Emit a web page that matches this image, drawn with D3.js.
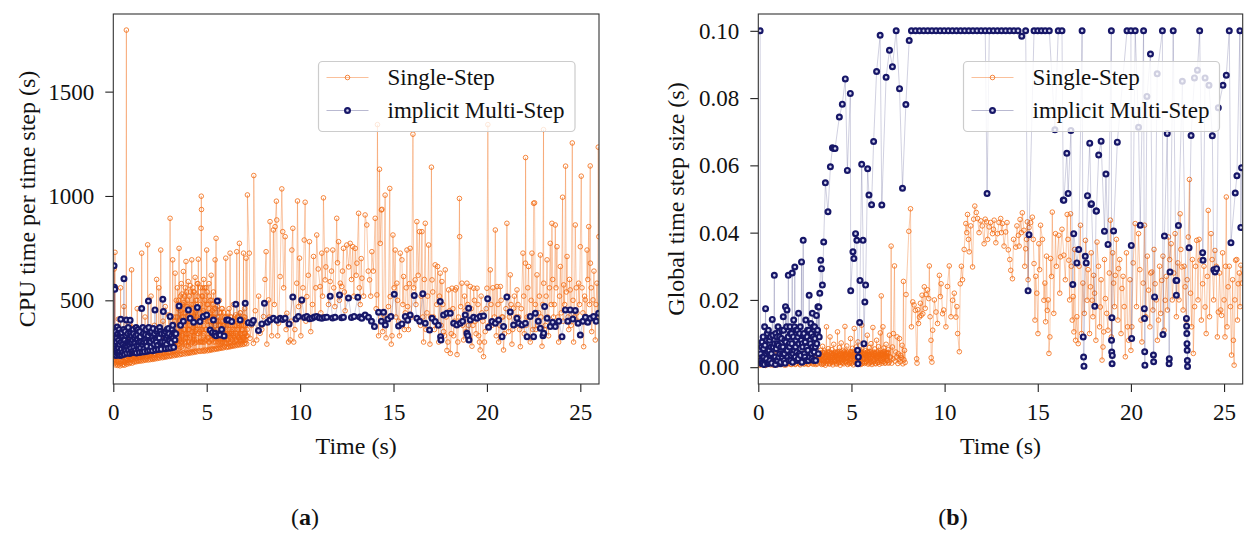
<!DOCTYPE html>
<html>
<head>
<meta charset="utf-8">
<script src="https://cdn.jsdelivr.net/npm/d3@7/dist/d3.min.js"></script>
<style>
  html, body { margin: 0; padding: 0; background: #fff; }
  svg { display: block; }
  text { font-family: "Liberation Serif", "Times New Roman", serif; fill: #111; }
</style>
</head>
<body>
<svg id="fig" width="1245" height="533"></svg>
<script>
// ---------- data: [time (s), value] ----------

// (a) CPU time per time step, Single-Step, start-up phase with small steps
const singleCpuEarly = [
  [0.02,230],[0.05,650],[0.08,205],[0.09,730],[0.12,190],[0.15,262],[0.18,196],[0.21,330],[0.24,188],[0.27,410],
  [0.30,195],[0.33,248],[0.36,186],[0.39,560],[0.42,198],[0.45,300],[0.48,190],[0.51,250],[0.54,194],[0.57,470],
  [0.60,189],[0.63,280],[0.67,200],[0.70,1795],[0.73,194],[0.76,330],[0.79,203],[0.82,260],[0.85,197],[0.88,385],
  [0.91,202],[0.94,290],[0.98,646],[1.01,199],[1.04,370],[1.07,207],[1.10,300],[1.13,204],[1.16,320],[1.19,210],
  [1.22,290],[1.25,206],[1.28,460],[1.31,212],[1.34,300],[1.37,208],[1.40,350],[1.43,214],[1.46,280],[1.49,209],
  [1.52,726],[1.55,216],[1.58,310],[1.61,211],[1.64,285],[1.67,218],[1.70,420],[1.73,213],[1.76,300],[1.79,219],
  [1.84,766],[1.87,214],[1.90,330],[1.93,220],[1.96,300],[1.99,216],[2.02,520],[2.05,222],[2.08,340],[2.11,217],
  [2.14,290],[2.17,224],[2.20,380],[2.23,219],[2.26,310],[2.29,226],[2.32,600],[2.35,221],[2.38,330],[2.41,228],
  [2.44,560],[2.47,223],[2.50,300],[2.54,741],[2.57,229],[2.60,330],[2.63,225],[2.66,400],[2.69,231],[2.72,300],
  [2.75,227],[2.78,470],[2.81,233],[2.84,350],[2.87,229],[2.90,320],[2.93,235],[2.96,430],[3.00,231],[3.04,893],
  [3.07,237],[3.10,360],[3.13,233],[3.18,694],[3.21,239],[3.24,420],[3.27,235],[3.31,630],[3.34,241],[3.37,500],
  [3.40,237],[3.43,560],[3.46,243],[3.49,380],[3.52,749],[3.55,239],[3.58,450],[3.61,245],[3.64,580],[3.67,241],
  [3.70,330],[3.75,638],[3.78,247],[3.81,520],[3.84,243],[3.89,686],[3.92,249],[3.95,470],[3.98,245],[4.01,590],
  [4.04,251],[4.07,360],[4.10,247],[4.13,540],[4.16,253],[4.20,694],[4.23,249],[4.26,560],[4.29,255],[4.32,400],
  [4.35,251],[4.38,610],[4.41,257],[4.44,450],[4.47,253],[4.50,580],[4.55,697],[4.58,259],[4.61,380],[4.64,255],
  [4.67,560],[4.70,845],[4.71,999],[4.72,935],[4.75,257],[4.78,520],[4.81,261],[4.84,600],[4.87,256],[4.90,410],
  [4.93,262],[4.96,560],[5.00,741],[5.03,258],[5.06,480],[5.09,264],[5.12,580],[5.15,260],[5.18,400],[5.21,266],
  [5.24,620],[5.27,262],[5.30,450],[5.33,268],[5.36,540],[5.40,264],[5.45,694],[5.48,270],[5.50,797],[5.53,266],
  [5.56,470],[5.59,272],[5.62,400],[5.65,268],[5.68,500],[5.71,274],[5.74,380],[5.77,270],[5.80,460],[5.83,276],
  [5.86,350],[5.89,272],[5.92,440],[5.95,278],[5.98,380],[6.02,702],[6.05,274],[6.08,420],[6.11,280],[6.14,340],
  [6.17,276],[6.20,460],[6.23,282],[6.25,726],[6.28,278],[6.31,400],[6.34,284],[6.37,360],[6.40,280],[6.43,480],
  [6.46,286],[6.49,380],[6.52,282],[6.55,430],[6.58,288],[6.61,733],[6.64,284],[6.67,390],[6.70,290],[6.75,773],
  [6.78,286],[6.81,440],[6.84,292],[6.87,360],[6.90,288],[6.93,410],[6.97,726],[7.00,290],[7.03,460],[7.06,296],
  [7.11,702],[7.14,292],[7.18,1005]
];

// (a) Single-Step, intermediate steps inside the start-up band
const singleCpuBand = [
  [0.015,215],[0.035,245],[0.065,198],[0.095,270],[0.125,225],[0.165,210],[0.195,290],[0.225,232],[0.255,205],[0.285,265],
  [0.315,218],[0.345,300],[0.375,240],[0.405,208],[0.435,255],[0.465,228],[0.495,310],[0.525,212],[0.555,268],[0.585,236],
  [0.615,204],[0.645,295],[0.685,246],[0.715,220],[0.745,272],[0.775,230],[0.805,300],[0.835,214],[0.865,258],[0.895,238],
  [0.925,320],[0.955,222],[0.985,276],[1.025,240],[1.055,214],[1.085,285],[1.115,250],[1.145,228],[1.175,300],[1.205,242],
  [1.235,222],[1.265,330],[1.295,258],[1.325,236],[1.355,290],[1.385,250],[1.415,226],[1.445,312],[1.475,262],[1.505,240],
  [1.535,285],[1.565,232],[1.595,340],[1.625,256],[1.655,238],[1.685,298],[1.715,262],[1.745,230],[1.775,318],[1.805,248],
  [1.835,272],[1.865,240],[1.895,300],[1.925,258],[1.955,236],[1.985,335],[2.015,268],[2.045,246],[2.075,296],[2.105,255],
  [2.135,320],[2.165,238],[2.195,282],[2.225,262],[2.255,244],[2.285,340],[2.315,270],[2.345,250],[2.375,300],[2.405,258],
  [2.435,236],[2.465,325],[2.495,275],[2.525,248],[2.555,310],[2.585,262],[2.615,345],[2.645,252],[2.675,288],[2.705,268],
  [2.735,246],[2.765,330],[2.795,280],[2.825,255],[2.855,305],[2.885,265],[2.915,360],[2.945,250],[2.975,295],[3.015,272],
  [3.045,252],[3.075,340],[3.105,285],[3.135,262],[3.165,318],[3.195,270],[3.225,380],[3.255,258],[3.285,300],[3.315,276],
  [3.355,420],[3.385,262],[3.415,340],[3.445,290],[3.475,460],[3.505,268],[3.535,380],[3.565,310],[3.595,520],[3.625,275],
  [3.655,420],[3.685,300],[3.715,480],[3.745,270],[3.765,360],[3.795,440],[3.825,295],[3.855,560],[3.875,320],[3.905,400],
  [3.935,285],[3.965,500],[3.995,340],[4.025,280],[4.055,460],[4.085,320],[4.115,570],[4.145,290],[4.175,420],[4.215,350],
  [4.245,300],[4.275,480],[4.305,330],[4.335,540],[4.365,295],[4.395,440],[4.425,360],[4.455,310],[4.485,500],[4.515,340],
  [4.535,580],[4.565,300],[4.595,460],[4.625,350],[4.655,420],[4.685,305],[4.735,520],[4.765,360],[4.795,300],[4.825,450],
  [4.855,340],[4.885,560],[4.915,310],[4.945,420],[4.975,360],[5.015,480],[5.045,320],[5.075,400],[5.105,300],[5.135,520],
  [5.165,350],[5.195,440],[5.225,310],[5.255,380],[5.285,500],[5.315,330],[5.345,420],[5.375,300],[5.425,460],[5.465,340],
  [5.515,400],[5.545,320],[5.575,360],[5.605,300],[5.635,420],[5.665,330],[5.695,380],[5.725,310],[5.755,440],[5.785,340],
  [5.815,300],[5.845,400],[5.875,330],[5.905,360],[5.935,310],[5.965,420],[5.995,330],[6.035,300],[6.065,380],[6.095,340],
  [6.125,310],[6.155,400],[6.185,330],[6.215,360],[6.265,320],[6.295,420],[6.325,340],[6.355,310],[6.385,380],[6.415,330],
  [6.455,400],[6.485,320],[6.515,360],[6.545,340],[6.575,310],[6.625,420],[6.655,330],[6.685,360],[6.735,320],[6.765,400],
  [6.795,340],[6.825,310],[6.855,380],[6.885,330],[6.915,360],[6.955,320],[6.985,420],[7.015,340],[7.045,310],[7.075,380],
  [7.125,330],[7.165,360]
];

// (a) Single-Step, further start-up steps in the middle of the band
const singleCpuCore = [
  [0.505,232],[0.535,262],[0.565,205],[0.595,284],[0.625,246],[0.655,218],[0.705,268],[0.735,238],[0.765,212],[0.795,280],
  [0.825,244],[0.855,226],[0.885,292],[0.915,250],[0.945,216],[0.975,262],[1.005,236],[1.035,296],[1.065,228],[1.095,255],
  [1.125,270],[1.155,238],[1.185,262],[1.215,296],[1.245,232],[1.275,278],[1.305,246],[1.335,312],[1.365,228],[1.395,270],
  [1.425,252],[1.455,296],[1.485,236],[1.515,280],[1.545,256],[1.575,318],[1.605,240],[1.635,272],[1.665,260],[1.695,306],
  [1.725,244],[1.755,286],[1.785,262],[1.815,232],[1.845,296],[1.875,270],[1.905,248],[1.935,312],[1.965,266],[1.995,244],
  [2.025,298],[2.055,276],[2.085,252],[2.115,320],[2.145,262],[2.175,300],[2.205,246],[2.235,280],[2.265,330],[2.295,256],
  [2.325,284],[2.355,268],[2.385,310],[2.415,250],[2.445,292],[2.475,340],[2.505,262],[2.535,298],[2.565,276],[2.595,320],
  [2.625,258],[2.655,300],[2.685,280],[2.715,336],[2.745,262],[2.775,300],[2.805,284],[2.835,330],[2.865,270],[2.895,298],
  [2.925,282],[2.955,345],[2.985,268],[3.025,310],[3.055,286],[3.085,360],[3.115,272],[3.145,300],[3.175,340],[3.205,282],
  [3.235,310],[3.265,400],[3.295,290],[3.325,350],[3.405,300],[3.435,420],[3.465,320],[3.495,500],[3.525,290],[3.555,400],
  [3.585,350],[3.615,470],[3.645,300],[3.675,530],[3.705,340],[3.735,420],[3.755,310],[3.785,490],[3.815,360],[3.845,300],
  [3.865,440],[3.895,340],[3.925,540],[3.955,320],[3.985,410],[4.015,360],[4.045,300],[4.075,520],[4.105,380],[4.135,330],
  [4.165,480],[4.195,300],[4.235,440],[4.265,370],[4.295,540],[4.325,310],[4.355,420],[4.385,350],[4.415,500],[4.445,300],
  [4.475,420],[4.505,380],[4.545,520],[4.575,340],[4.605,410],[4.635,300],[4.665,480],[4.695,360],[4.725,300],[4.755,440],
  [4.785,560],[4.815,330],[4.845,400],[4.875,300],[4.905,500],[4.935,360],[4.965,420],[4.995,310],[5.025,540],[5.055,380],
  [5.085,320],[5.115,460],[5.145,300],[5.175,420],[5.205,500],[5.235,340],[5.265,420],[5.295,310],[5.325,480],[5.355,360],
  [5.385,420],[5.415,320],[5.445,400],[5.475,300],[5.505,460],[5.535,360],[5.565,420],[5.595,330],[5.625,380],[5.655,300],
  [5.685,440],[5.715,340],[5.745,300],[5.775,400],[5.805,330],[5.835,460],[5.865,300],[5.895,380],[5.925,340],[5.955,300],
  [5.985,420],[6.015,340],[6.045,310],[6.075,400],[6.105,330],[6.135,440],[6.165,310],[6.195,380],[6.245,340],[6.275,300],
  [6.305,420],[6.335,350],[6.365,310],[6.395,400],[6.425,340],[6.465,300],[6.495,420],[6.525,330],[6.565,380],[6.595,310],
  [6.635,360],[6.665,420],[6.695,320],[6.725,380],[6.755,310],[6.785,440],[6.815,340],[6.845,300],[6.875,400],[6.905,340],
  [6.945,310],[6.975,380],[7.005,320],[7.035,420],[7.065,340],[7.095,310],[7.135,400],[7.175,330]
];

// (a) CPU time per time step, Single-Step, later phase with larger steps
const singleCpuLate = [
  [7.28,726],[7.32,318],[7.50,294],[7.52,1098],[7.68,310],[7.86,342],[8.04,422],[8.18,733],[8.31,502],[8.39,877],
  [8.48,330],[8.57,837],[8.66,853],[8.73,975],[8.75,885],[8.84,390],[8.93,614],[9.02,1034],[9.07,829],[9.20,805],
  [9.29,438],[9.38,300],[9.47,310],[9.56,741],[9.61,845],[9.72,360],[9.82,582],[9.86,976],[9.97,702],[10.09,494],
  [10.22,789],[10.27,970],[10.36,518],[10.50,781],[10.57,350],[10.72,710],[10.80,420],[10.89,813],[11.07,566],[11.16,726],
  [11.25,991],[11.34,598],[11.43,741],[11.61,590],[11.75,741],[11.86,470],[11.96,893],[12.06,781],[12.15,582],[12.23,566],
  [12.32,749],[12.41,450],[12.50,765],[12.68,773],[12.82,757],[12.95,749],[13.04,678],[13.13,917],[13.22,480],[13.31,606],
  [13.48,909],[13.57,861],[13.72,598],[13.84,733],[14.02,893],[14.11,526],[14.14,1342],[14.25,1128],[14.29,773],[14.35,933],
  [14.38,936],[14.47,430],[14.55,1004],[14.64,406],[14.80,1036],[14.82,518],[14.88,290],[14.97,813],[15.09,741],[15.18,582],
  [15.27,400],[15.36,726],[15.45,694],[15.54,614],[15.63,440],[15.72,741],[15.80,360],[15.89,749],[16.04,1296],[16.16,598],
  [16.25,877],[16.39,829],[16.45,380],[16.52,829],[16.61,300],[16.70,869],[16.79,440],[16.88,765],[16.95,290],[17.03,1138],
  [17.06,598],[17.14,420],[17.23,670],[17.36,662],[17.42,300],[17.50,630],[17.59,590],[17.68,350],[17.77,646],[17.86,260],
  [17.95,550],[18.04,246],[18.13,558],[18.22,330],[18.31,550],[18.40,240],[18.48,420],[18.53,988],[18.54,805],[18.66,582],
  [18.75,310],[18.84,450],[18.93,582],[19.02,380],[19.11,566],[19.20,280],[19.29,558],[19.38,400],[19.47,558],[19.56,330],
  [19.64,262],[19.73,440],[19.82,230],[19.91,350],[20.00,558],[20.05,1342],[20.18,646],[20.27,380],[20.45,837],[20.54,566],
  [20.63,300],[20.72,566],[20.80,420],[20.89,262],[21.07,869],[21.16,350],[21.25,622],[21.34,290],[21.43,462],[21.52,380],
  [21.61,550],[21.70,420],[21.79,278],[21.93,726],[22.00,340],[22.06,678],[22.07,1184],[22.15,420],[22.23,662],[22.32,300],
  [22.41,726],[22.50,965],[22.55,967],[22.62,360],[22.68,622],[22.77,440],[22.86,717],[22.95,280],[23.03,1318],[23.04,582],
  [23.13,380],[23.22,694],[23.30,330],[23.39,773],[23.48,869],[23.57,420],[23.66,861],[23.75,757],[23.84,300],[23.93,662],
  [24.05,994],[24.11,574],[24.21,1143],[24.29,710],[24.38,360],[24.46,550],[24.57,1254],[24.64,300],[24.73,861],[24.82,440],
  [24.91,582],[25.00,757],[25.05,1095],[25.18,278],[25.27,502],[25.36,741],[25.45,853],[25.53,1144],[25.54,678],[25.61,350],
  [25.68,502],[25.80,310],[25.89,582],[25.96,1234],[25.99,805]
];

// (a) Single-Step, additional later steps around the main cloud
const singleCpuCloud = [
  [7.40,380],[7.60,450],[7.78,520],[7.95,360],[8.12,600],[8.22,290],[8.35,420],[8.62,480],[8.80,330],[9.12,560],
  [9.25,360],[9.52,400],[9.66,300],[9.92,470],[10.04,330],[10.15,560],[10.31,400],[10.44,620],[10.66,480],[10.84,560],
  [10.97,650],[11.11,440],[11.20,520],[11.38,660],[11.52,480],[11.68,640],[11.80,560],[12.00,680],[12.10,500],[12.27,640],
  [12.37,540],[12.60,660],[12.75,600],[12.88,520],[13.00,620],[13.17,560],[13.27,700],[13.40,520],[13.65,640],[13.78,520],
  [13.92,640],[14.07,460],[14.20,330],[14.42,350],[14.60,320],[14.73,470],[14.92,330],[15.03,560],[15.13,420],[15.22,500],
  [15.32,330],[15.50,480],[15.58,360],[15.68,560],[15.76,470],[15.85,580],[15.96,420],[16.08,560],[16.20,480],[16.32,620],
  [16.48,520],[16.57,420],[16.65,600],[16.74,360],[16.83,520],[16.99,420],[17.10,540],[17.19,360],[17.32,480],[17.46,520],
  [17.55,380],[17.64,480],[17.73,330],[17.82,420],[17.91,300],[18.00,450],[18.09,340],[18.18,460],[18.27,400],[18.36,560],
  [18.44,300],[18.60,470],[18.70,380],[18.80,520],[18.88,350],[18.97,480],[19.06,320],[19.16,460],[19.25,380],[19.33,500],
  [19.42,340],[19.52,480],[19.60,300],[19.69,520],[19.78,400],[19.87,300],[19.96,460],[20.10,380],[20.22,480],[20.32,560],
  [20.40,420],[20.50,330],[20.59,480],[20.68,380],[20.76,500],[20.85,420],[20.94,340],[21.02,460],[21.11,520],[21.20,420],
  [21.29,480],[21.38,360],[21.47,520],[21.56,420],[21.66,480],[21.75,360],[21.84,460],[21.97,520],[22.10,380],[22.19,560],
  [22.28,420],[22.37,500],[22.46,360],[22.59,480],[22.72,380],[22.81,520],[22.90,420],[22.99,480],[23.08,360],[23.17,520],
  [23.26,420],[23.35,560],[23.44,480],[23.52,600],[23.61,480],[23.70,560],[23.80,420],[23.89,520],[23.98,440],[24.08,400],
  [24.16,480],[24.25,540],[24.34,420],[24.42,600],[24.51,380],[24.61,500],[24.68,420],[24.78,560],[24.87,400],[24.96,480],
  [25.09,560],[25.14,440],[25.23,520],[25.32,420],[25.40,600],[25.49,480],[25.58,560],[25.64,420],[25.73,640],[25.84,480],
  [25.93,400]
];

// (a) CPU time per time step, implicit Multi-Step
const multiCpu = [
  [0.02,300],[0.04,666],[0.06,563],[0.08,553],[0.10,280],[0.13,350],[0.16,260],[0.19,320],[0.22,250],[0.25,340],
  [0.28,270],[0.31,360],[0.34,255],[0.37,330],[0.40,409],[0.43,265],[0.46,345],[0.50,250],[0.54,310],[0.57,603],
  [0.60,270],[0.63,350],[0.66,258],[0.70,406],[0.74,280],[0.78,340],[0.82,262],[0.86,300],[0.90,404],[0.94,270],
  [0.98,330],[1.02,255],[1.06,360],[1.10,275],[1.14,320],[1.18,260],[1.22,370],[1.26,282],[1.30,335],[1.34,265],
  [1.38,300],[1.42,350],[1.46,272],[1.52,461],[1.56,290],[1.60,340],[1.64,268],[1.70,310],[1.75,360],[1.80,280],
  [1.88,497],[1.92,300],[1.97,345],[2.02,276],[2.08,320],[2.13,365],[2.18,290],[2.23,454],[2.28,310],[2.33,350],
  [2.38,285],[2.43,330],[2.48,370],[2.53,295],[2.58,340],[2.65,505],[2.68,446],[2.75,300],[2.80,350],[2.85,290],
  [2.90,330],[2.95,365],[3.00,305],[3.04,422],[3.10,298],[3.15,360],[3.20,320],[3.25,345],[3.30,310],[3.35,340],
  [3.52,473],[3.60,380],[3.75,400],[4.02,454],[4.11,414],[4.30,395],[4.50,465],[4.64,398],[4.82,422],[5.00,430],
  [5.18,358],[5.30,345],[5.36,406],[5.42,335],[5.45,342],[5.50,330],[5.57,497],[5.64,338],[5.72,334],[5.80,360],
  [5.93,329],[6.07,406],[6.16,406],[6.34,398],[6.56,481],[6.79,406],[7.06,486],[7.23,393],[7.41,390],[7.50,403],
  [7.77,355],[7.95,387],[8.09,486],[8.25,395],[8.39,406],[8.57,414],[8.75,405],[8.93,414],[9.07,408],[9.20,414],
  [9.41,387],[9.61,516],[9.78,410],[9.91,422],[10.09,502],[10.23,418],[10.36,422],[10.50,412],[10.63,414],[10.76,420],
  [10.89,422],[11.03,416],[11.16,414],[11.30,418],[11.43,419],[11.61,520],[11.74,415],[11.87,419],[12.11,526],[12.22,416],
  [12.32,419],[12.59,511],[12.75,418],[12.89,422],[13.09,515],[13.20,420],[13.30,414],[13.48,430],[13.66,419],[13.82,400],
  [13.98,374],[14.20,443],[14.35,400],[14.47,443],[14.56,382],[14.70,410],[14.86,422],[15.04,529],[15.27,377],[15.45,387],
  [15.63,422],[15.76,405],[15.89,430],[16.11,523],[16.25,414],[16.40,400],[16.57,531],[16.70,390],[16.93,358],[17.06,414],
  [17.23,398],[17.40,380],[17.50,494],[17.52,326],[17.54,310],[17.68,430],[17.86,438],[18.04,438],[18.22,390],[18.39,382],
  [18.57,390],[18.70,400],[18.84,430],[18.93,342],[18.98,330],[19.02,462],[19.04,310],[19.11,406],[19.29,419],[19.47,414],
  [19.64,422],[19.82,425],[20.04,507],[20.09,371],[20.27,398],[20.45,390],[20.63,406],[20.81,326],[20.89,374],[21.07,516],
  [21.25,444],[21.43,382],[21.61,414],[21.70,390],[21.88,382],[22.06,390],[22.15,326],[22.32,422],[22.50,326],[22.59,438],
  [22.75,400],[22.86,366],[23.00,330],[23.04,342],[23.09,470],[23.22,414],[23.39,374],[23.52,395],[23.66,374],[23.85,400],
  [24.02,326],[24.20,454],[24.33,400],[24.46,454],[24.60,410],[24.73,451],[24.88,390],[25.00,334],[25.14,400],[25.27,419],
  [25.40,395],[25.54,414],[25.71,422],[25.85,400],[25.98,438]
];

// (a) implicit Multi-Step, extra start-up steps
const multiCpuBand = [
  [0.03,240],[0.07,320],[0.115,290],[0.145,235],[0.175,300],[0.205,372],[0.235,280],[0.265,240],[0.295,310],[0.325,290],
  [0.355,236],[0.385,345],[0.415,300],[0.445,238],[0.475,320],[0.52,290],[0.555,360],[0.585,242],[0.615,310],[0.645,285],
  [0.68,330],[0.72,246],[0.76,300],[0.80,370],[0.84,290],[0.88,245],[0.92,340],[0.96,300],[1.00,250],[1.04,310],
  [1.08,340],[1.12,250],[1.16,295],[1.20,330],[1.24,248],[1.28,310],[1.32,360],[1.36,285],[1.40,250],[1.44,325],
  [1.48,300],[1.54,252],[1.58,370],[1.62,300],[1.67,254],[1.72,335],[1.77,300],[1.83,256],[1.86,330],[1.90,370],
  [1.95,260],[2.00,300],[2.05,350],[2.10,258],[2.15,310],[2.21,340],[2.26,262],[2.31,300],[2.36,360],[2.41,264],
  [2.46,320],[2.51,350],[2.56,266],[2.61,300],[2.72,340],[2.78,268],[2.83,320],[2.88,360],[2.93,270],[2.98,340],
  [3.07,272],[3.13,330],[3.18,380],[3.23,275],[3.28,340]
];

// (b) global time step size, Single-Step, start-up phase
const singleStepEarly = [
  [0.03,0.0020],[0.08,0.0008],[0.13,0.0035],[0.18,0.0010],[0.24,0.0030],[0.30,0.0006],[0.36,0.0028],[0.42,0.0010],
  [0.48,0.0040],[0.54,0.0012],[0.60,0.0032],[0.66,0.0007],[0.72,0.0026],[0.78,0.0011],[0.84,0.0038],[0.90,0.0009],
  [0.96,0.0030],[1.02,0.0013],[1.08,0.0042],[1.14,0.0010],[1.20,0.0029],[1.26,0.0008],[1.32,0.0036],[1.38,0.0012],
  [1.44,0.0031],[1.50,0.0007],[1.56,0.0044],[1.62,0.0011],[1.68,0.0027],[1.74,0.0009],[1.80,0.0039],[1.86,0.0013],
  [1.92,0.0033],[1.98,0.0008],[2.04,0.0041],[2.10,0.0012],[2.16,0.0030],[2.22,0.0010],[2.28,0.0037],[2.34,0.0014],
  [2.40,0.0034],[2.46,0.0009],[2.52,0.0045],[2.58,0.0012],[2.64,0.0032],[2.70,0.0010],[2.76,0.0038],[2.82,0.0013],
  [2.88,0.0030],[2.94,0.0009],[3.00,0.0043],[3.06,0.0012],[3.12,0.0035],[3.18,0.0010],[3.24,0.0040],[3.30,0.0015],
  [3.35,0.0050],[3.40,0.0008],[3.45,0.0062],[3.50,0.0012],[3.55,0.0048],[3.60,0.0006],[3.66,0.0120],[3.70,0.0018],
  [3.75,0.0055],[3.80,0.0010],[3.85,0.0090],[3.90,0.0014],[3.95,0.0052],[4.00,0.0007],[4.05,0.0068],[4.10,0.0016],
  [4.15,0.0045],[4.20,0.0009],[4.25,0.0105],[4.30,0.0013],[4.35,0.0058],[4.40,0.0006],[4.45,0.0072],[4.50,0.0015],
  [4.55,0.0050],[4.60,0.0010],[4.65,0.0121],[4.70,0.0017],[4.75,0.0063],[4.80,0.0008],[4.85,0.0047],[4.90,0.0014],
  [4.95,0.0085],[5.00,0.0011],[5.05,0.0056],[5.10,0.0007],[5.15,0.0115],[5.20,0.0016],[5.25,0.0060],[5.30,0.0010],
  [5.35,0.0075],[5.40,0.0013],[5.45,0.0052],[5.50,0.0008],[5.55,0.0125],[5.60,0.0015],[5.65,0.0066],[5.70,0.0011],
  [5.75,0.0049],[5.80,0.0017],[5.85,0.0095],[5.90,0.0009],[5.95,0.0058],[6.00,0.0013],[6.05,0.0070],[6.10,0.0008],
  [6.15,0.0118],[6.20,0.0016],[6.25,0.0054],[6.30,0.0010],[6.35,0.0080],[6.40,0.0014],[6.45,0.0061],[6.50,0.0009],
  [6.55,0.0102],[6.60,0.0212],[6.65,0.0018],[6.69,0.0120],[6.74,0.0057],[6.80,0.0012],[6.86,0.0068],[6.92,0.0020],
  [6.98,0.0052],[7.04,0.0095],[7.10,0.0030],[7.13,0.0360],[7.20,0.0060],[7.25,0.0100],[7.31,0.0301],[7.38,0.0045],
  [7.45,0.0090],[7.52,0.0040],[7.58,0.0085],[7.65,0.0035],[7.72,0.0065],[7.79,0.0255],[7.85,0.0050]
];

// (b) Single-Step, intermediate start-up steps
const singleStepBand = [
  [0.015,0.0012],[0.055,0.0025],[0.105,0.0006],[0.155,0.0018],[0.21,0.0028],[0.27,0.0014],[0.33,0.0022],[0.39,0.0005],
  [0.45,0.0019],[0.51,0.0027],[0.57,0.0009],[0.63,0.0021],[0.69,0.0016],[0.75,0.0034],[0.81,0.0006],[0.87,0.0024],
  [0.93,0.0015],[0.99,0.0029],[1.05,0.0007],[1.11,0.0022],[1.17,0.0017],[1.23,0.0033],[1.29,0.0011],[1.35,0.0024],
  [1.41,0.0006],[1.47,0.0021],[1.53,0.0030],[1.59,0.0013],[1.65,0.0036],[1.71,0.0018],[1.77,0.0008],[1.83,0.0026],
  [1.89,0.0019],[1.95,0.0031],[2.01,0.0010],[2.07,0.0024],[2.13,0.0016],[2.19,0.0035],[2.25,0.0007],[2.31,0.0023],
  [2.37,0.0018],[2.43,0.0029],[2.49,0.0011],[2.55,0.0033],[2.61,0.0020],[2.67,0.0008],[2.73,0.0027],[2.79,0.0017],
  [2.85,0.0038],[2.91,0.0012],[2.97,0.0025],[3.03,0.0019],[3.09,0.0008],[3.15,0.0030],[3.21,0.0022],[3.27,0.0028],
  [3.325,0.0030],[3.375,0.0022],[3.425,0.0035],[3.475,0.0018],[3.525,0.0042],[3.575,0.0026],[3.625,0.0033],[3.675,0.0020],
  [3.725,0.0038],[3.775,0.0028],[3.825,0.0045],[3.875,0.0022],[3.925,0.0036],[3.975,0.0030],[4.025,0.0040],[4.075,0.0024],
  [4.125,0.0034],[4.175,0.0019],[4.225,0.0043],[4.275,0.0028],[4.325,0.0036],[4.375,0.0023],[4.425,0.0040],[4.475,0.0030],
  [4.525,0.0025],[4.575,0.0044],[4.625,0.0031],[4.675,0.0037],[4.725,0.0026],[4.775,0.0041],[4.825,0.0029],[4.875,0.0035],
  [4.925,0.0022],[4.975,0.0046],[5.025,0.0032],[5.075,0.0038],[5.125,0.0027],[5.175,0.0043],[5.225,0.0030],[5.275,0.0036],
  [5.325,0.0024],[5.375,0.0041],[5.425,0.0033],[5.475,0.0028],[5.525,0.0045],[5.575,0.0031],[5.625,0.0039],[5.675,0.0025],
  [5.725,0.0042],[5.775,0.0034],[5.825,0.0029],[5.875,0.0046],[5.925,0.0032],[5.975,0.0038],[6.025,0.0026],[6.075,0.0043],
  [6.125,0.0030],[6.175,0.0036],[6.225,0.0024],[6.275,0.0040],[6.325,0.0033],[6.375,0.0028],[6.425,0.0045],[6.475,0.0031],
  [6.525,0.0038],[6.575,0.0026],[6.625,0.0042],[6.675,0.0034],[6.725,0.0029],[6.775,0.0046],[6.825,0.0032],[6.875,0.0040],
  [6.925,0.0027],[6.965,0.0044],[7.02,0.0015],[7.07,0.0030],[7.16,0.0012],[7.23,0.0025],[7.34,0.0018],[7.42,0.0030],
  [7.49,0.0011],[7.55,0.0024],[7.62,0.0016],[7.69,0.0028],[7.76,0.0010],[7.82,0.0022],[7.88,0.0014]
];

// (b) Single-Step, further steps in the dense start-up band
const singleStepCore = [
  [3.312,0.0024],[3.337,0.0041],[3.362,0.0012],[3.387,0.0034],[3.412,0.0020],[3.437,0.0044],[3.462,0.0027],[3.487,0.0009],
  [3.512,0.0036],[3.537,0.0021],[3.562,0.0043],[3.587,0.0016],[3.612,0.0030],[3.637,0.0039],[3.662,0.0011],[3.687,0.0032],
  [3.712,0.0023],[3.737,0.0045],[3.762,0.0018],[3.787,0.0035],[3.812,0.0026],[3.837,0.0010],[3.862,0.0040],[3.887,0.0028],
  [3.912,0.0017],[3.937,0.0042],[3.962,0.0024],[3.987,0.0034],[4.012,0.0013],[4.037,0.0038],[4.062,0.0029],[4.087,0.0044],
  [4.112,0.0019],[4.137,0.0031],[4.162,0.0040],[4.187,0.0012],[4.212,0.0035],[4.237,0.0025],[4.262,0.0046],[4.287,0.0018],
  [4.312,0.0033],[4.337,0.0041],[4.362,0.0014],[4.387,0.0037],[4.412,0.0027],[4.437,0.0045],[4.462,0.0020],[4.487,0.0035],
  [4.512,0.0012],[4.537,0.0040],[4.562,0.0030],[4.587,0.0022],[4.612,0.0046],[4.637,0.0016],[4.662,0.0034],[4.687,0.0041],
  [4.712,0.0013],[4.737,0.0036],[4.762,0.0028],[4.787,0.0044],[4.812,0.0019],[4.837,0.0032],[4.862,0.0040],[4.887,0.0011],
  [4.912,0.0037],[4.937,0.0026],[4.962,0.0045],[4.987,0.0017],[5.012,0.0033],[5.037,0.0042],[5.062,0.0014],[5.087,0.0036],
  [5.112,0.0029],[5.137,0.0046],[5.162,0.0020],[5.187,0.0034],[5.212,0.0041],[5.237,0.0012],[5.262,0.0038],[5.287,0.0027],
  [5.312,0.0045],[5.337,0.0018],[5.362,0.0032],[5.387,0.0040],[5.412,0.0013],[5.437,0.0036],[5.462,0.0025],[5.487,0.0044],
  [5.512,0.0019],[5.537,0.0034],[5.562,0.0041],[5.587,0.0011],[5.612,0.0037],[5.637,0.0028],[5.662,0.0045],[5.687,0.0016],
  [5.712,0.0033],[5.737,0.0040],[5.762,0.0014],[5.787,0.0036],[5.812,0.0026],[5.837,0.0044],[5.862,0.0020],[5.887,0.0035],
  [5.912,0.0042],[5.937,0.0012],[5.962,0.0038],[5.987,0.0029],[6.012,0.0046],[6.037,0.0017],[6.062,0.0033],[6.087,0.0040],
  [6.112,0.0013],[6.137,0.0037],[6.162,0.0025],[6.187,0.0044],[6.212,0.0019],[6.237,0.0034],[6.262,0.0041],[6.287,0.0012],
  [6.312,0.0036],[6.337,0.0027],[6.362,0.0045],[6.387,0.0018],[6.412,0.0032],[6.437,0.0040],[6.462,0.0014],[6.487,0.0037],
  [6.512,0.0028],[6.537,0.0044],[6.562,0.0020],[6.587,0.0035],[6.612,0.0041],[6.637,0.0012],[6.662,0.0038],[6.687,0.0026],
  [6.712,0.0045],[6.737,0.0017],[6.762,0.0033],[6.787,0.0040],[6.812,0.0013],[6.837,0.0036],[6.862,0.0029],[6.887,0.0044],
  [6.912,0.0019],[6.937,0.0034],[6.962,0.0041],[6.987,0.0012]
];

// (b) global time step size, Single-Step, later phase
const singleStepLate = [
  [7.93,0.0216],[8.08,0.0404],[8.17,0.0471],[8.29,0.0194],[8.43,0.0169],[8.50,0.0025],[8.52,0.0012],[8.56,0.0171],
  [8.65,0.0149],[8.74,0.0154],[8.79,0.0214],[8.83,0.0159],[8.91,0.0239],[9.00,0.0216],[9.15,0.0204],[9.18,0.0301],
  [9.27,0.0080],[9.28,0.0028],[9.32,0.0015],[9.36,0.0110],[9.54,0.0164],[9.72,0.0273],[9.81,0.0248],[9.89,0.0159],
  [10.07,0.0120],[10.25,0.0301],[10.43,0.0199],[10.61,0.0149],[10.70,0.0100],[10.79,0.0046],[10.84,0.0248],[10.96,0.0260],
  [11.14,0.0427],[11.23,0.0454],[11.32,0.0343],[11.50,0.0298],[11.62,0.0479],[11.77,0.0442],[11.94,0.0435],[12.12,0.0367],
  [12.25,0.0432],[12.39,0.0417],[12.57,0.0397],[12.66,0.0437],[12.84,0.0397],[13.01,0.0442],[13.10,0.0427],[13.28,0.0402],
  [13.42,0.0349],[13.55,0.0288],[13.64,0.0263],[13.82,0.0357],[13.96,0.0392],[14.05,0.0439],[14.17,0.0459],[14.26,0.0407],
  [14.35,0.0352],[14.44,0.0432],[14.53,0.0415],[14.71,0.0446],[14.80,0.0308],[14.89,0.0270],[15.06,0.0367],[15.15,0.0422],
  [15.33,0.0199],[15.42,0.0135],[15.51,0.0169],[15.60,0.0041],[15.69,0.0323],[15.78,0.0461],[15.95,0.0397],[16.13,0.0392],
  [16.22,0.0328],[16.40,0.0333],[16.58,0.0454],[16.67,0.0318],[16.76,0.0456],[16.85,0.0140],[16.94,0.0105],[17.03,0.0080],
  [17.17,0.0070],[17.29,0.0422],[17.56,0.0377],[17.65,0.0199],[17.83,0.0239],[17.92,0.0199],[18.00,0.0273],[18.18,0.0372],
  [18.36,0.0179],[18.45,0.0021],[18.54,0.0105],[18.63,0.0204],[18.77,0.0110],[18.90,0.0437],[19.07,0.0250],[19.16,0.0273],
  [19.34,0.0293],[19.52,0.0234],[19.70,0.0031],[19.88,0.0080],[20.05,0.0120],[20.23,0.0427],[20.41,0.0397],[20.59,0.0075],
  [20.73,0.0422],[20.95,0.0229],[21.12,0.0283],[21.30,0.0248],[21.48,0.0140],[21.66,0.0258],[21.84,0.0199],[22.02,0.0387],
  [22.16,0.0367],[22.37,0.0397],[22.64,0.0456],[22.73,0.0298],[22.91,0.0239],[23.08,0.0387],[23.14,0.0558],[23.26,0.0120],
  [23.35,0.0041],[23.53,0.0377],[23.71,0.0318],[23.85,0.0248],[23.98,0.0179],[24.15,0.0466],[24.30,0.0397],[24.51,0.0347],
  [24.69,0.0164],[24.87,0.0154],[25.05,0.0090],[25.12,0.0506],[25.22,0.0239],[25.40,0.0036],[25.54,0.0006],[25.62,0.0318],
  [25.76,0.0248],[25.90,0.0303]
];

// (b) Single-Step, additional later steps
const singleStepCloud = [
  [8.22,0.0120],[8.36,0.0185],[8.60,0.0130],[8.70,0.0190],[8.96,0.0175],[9.08,0.0230],[9.22,0.0150],[9.45,0.0200],
  [9.62,0.0130],[9.77,0.0210],[9.95,0.0170],[10.15,0.0240],[10.34,0.0150],[10.52,0.0220],[10.66,0.0180],[10.90,0.0300],
  [11.05,0.0350],[11.19,0.0400],[11.28,0.0380],[11.40,0.0420],[11.56,0.0440],[11.70,0.0460],[11.85,0.0400],[12.02,0.0420],
  [12.18,0.0440],[12.31,0.0380],[12.47,0.0430],[12.62,0.0410],[12.75,0.0370],[12.92,0.0430],[13.05,0.0400],[13.19,0.0360],
  [13.35,0.0430],[13.50,0.0320],[13.70,0.0380],[13.88,0.0420],[14.00,0.0360],[14.12,0.0400],[14.30,0.0300],[14.40,0.0380],
  [14.48,0.0260],[14.62,0.0430],[14.76,0.0380],[14.85,0.0140],[14.95,0.0220],[15.01,0.0100],[15.10,0.0290],[15.25,0.0380],
  [15.38,0.0250],[15.47,0.0330],[15.56,0.0200],[15.65,0.0090],[15.74,0.0270],[15.86,0.0160],[16.00,0.0300],[16.18,0.0220],
  [16.30,0.0410],[16.48,0.0260],[16.62,0.0380],[16.71,0.0200],[16.80,0.0300],[16.90,0.0210],[16.98,0.0350],[17.10,0.0150],
  [17.22,0.0300],[17.35,0.0100],[17.42,0.0250],[17.50,0.0160],[17.70,0.0290],[17.78,0.0100],[17.87,0.0340],[17.96,0.0150],
  [18.05,0.0220],[18.12,0.0080],[18.26,0.0300],[18.32,0.0120],[18.40,0.0260],[18.50,0.0060],[18.58,0.0320],[18.70,0.0160],
  [18.84,0.0280],[18.95,0.0090],[19.02,0.0340],[19.12,0.0180],[19.22,0.0380],[19.30,0.0140],[19.40,0.0320],[19.47,0.0100],
  [19.58,0.0270],[19.64,0.0180],[19.76,0.0340],[19.82,0.0120],[19.95,0.0260],[20.00,0.0050],[20.12,0.0310],[20.30,0.0180],
  [20.48,0.0290],[20.54,0.0140],[20.66,0.0250],[20.80,0.0150],[20.88,0.0330],[21.02,0.0120],[21.06,0.0280],[21.18,0.0170],
  [21.24,0.0350],[21.36,0.0200],[21.42,0.0080],[21.54,0.0300],[21.60,0.0160],[21.72,0.0330],[21.78,0.0110],[21.90,0.0270],
  [21.96,0.0170],[22.08,0.0320],[22.22,0.0200],[22.30,0.0280],[22.44,0.0150],[22.52,0.0310],[22.58,0.0200],[22.68,0.0350],
  [22.80,0.0170],[22.86,0.0300],[22.97,0.0140],[23.02,0.0260],[23.20,0.0220],[23.30,0.0320],[23.42,0.0180],[23.47,0.0300],
  [23.60,0.0200],[23.66,0.0380],[23.78,0.0140],[23.92,0.0300],[24.04,0.0100],[24.10,0.0270],[24.22,0.0150],[24.36,0.0320],
  [24.44,0.0200],[24.58,0.0300],[24.64,0.0090],[24.76,0.0280],[24.82,0.0170],[24.92,0.0340],[25.00,0.0200],[25.08,0.0300],
  [25.16,0.0120],[25.28,0.0300],[25.34,0.0180],[25.46,0.0260],[25.50,0.0080],[25.58,0.0200],[25.68,0.0320],[25.72,0.0140],
  [25.82,0.0280],[25.86,0.0180],[25.96,0.0250]
];

// (b) global time step size, implicit Multi-Step
const multiStep = [
  [0.10,0.1000],[0.14,0.0020],[0.18,0.0060],[0.22,0.0010],[0.26,0.0090],[0.30,0.0030],[0.34,0.0120],[0.39,0.0174],
  [0.42,0.0040],[0.46,0.0080],[0.50,0.0010],[0.54,0.0110],[0.58,0.0050],[0.62,0.0020],[0.66,0.0090],[0.70,0.0040],
  [0.75,0.0142],[0.80,0.0060],[0.86,0.0273],[0.90,0.0030],[0.94,0.0100],[0.98,0.0020],[1.02,0.0070],[1.06,0.0120],
  [1.10,0.0030],[1.14,0.0090],[1.18,0.0010],[1.22,0.0060],[1.26,0.0110],[1.30,0.0040],[1.34,0.0150],[1.38,0.0020],
  [1.42,0.0080],[1.46,0.0180],[1.50,0.0050],[1.54,0.0170],[1.58,0.0030],[1.61,0.0273],[1.66,0.0070],[1.70,0.0120],
  [1.74,0.0020],[1.78,0.0100],[1.82,0.0280],[1.86,0.0040],[1.90,0.0140],[1.96,0.0298],[2.00,0.0060],[2.04,0.0110],
  [2.08,0.0020],[2.12,0.0090],[2.16,0.0160],[2.20,0.0040],[2.25,0.0120],[2.32,0.0313],[2.36,0.0070],[2.41,0.0377],
  [2.45,0.0100],[2.50,0.0030],[2.55,0.0140],[2.60,0.0060],[2.64,0.0110],[2.69,0.0020],[2.73,0.0214],[2.78,0.0080],
  [2.82,0.0130],[2.86,0.0040],[2.90,0.0160],[2.94,0.0090],[2.98,0.0020],[3.02,0.0120],[3.06,0.0060],[3.12,0.0154],
  [3.16,0.0100],[3.20,0.0180],[3.25,0.0179],[3.30,0.0220],[3.35,0.0318],[3.39,0.0293],[3.44,0.0244],[3.51,0.0372],
  [3.60,0.0548],[3.74,0.0462],[3.87,0.0596],[3.98,0.0652],[4.05,0.0650],[4.12,0.0650],[4.35,0.0744],[4.51,0.0782],
  [4.67,0.0857],[4.78,0.0585],[4.94,0.0814],[4.96,0.0227],[5.08,0.0343],[5.13,0.0323],[5.22,0.0397],[5.29,0.0377],
  [5.33,0.0050],[5.35,0.0010],[5.37,0.0030],[5.44,0.0133],[5.46,0.0258],[5.55,0.0603],[5.62,0.0377],[5.67,0.0070],
  [5.72,0.0194],[5.76,0.0244],[5.87,0.0590],[5.94,0.0512],[6.08,0.0483],[6.19,0.0671],[6.35,0.0879],[6.54,0.0987],
  [6.63,0.0482],[6.86,0.0862],[7.04,0.0942],[7.20,0.0893],[7.40,0.1000],[7.58,0.0828],[7.74,0.0532],[7.92,0.0781],
  [8.10,0.0971],[8.22,0.1000],[8.44,0.1000],[8.66,0.1000],[8.88,0.1000],[9.10,0.1000],[9.32,0.1000],[9.54,0.1000],
  [9.76,0.1000],[9.98,0.1000],[10.20,0.1000],[10.42,0.1000],[10.64,0.1000],[10.86,0.1000],[11.08,0.1000],[11.30,0.1000],
  [11.52,0.1000],[11.74,0.1000],[11.96,0.1000],[12.18,0.1000],[12.28,0.0516],[12.40,0.1000],[12.62,0.1000],[12.84,0.1000],
  [13.06,0.1000],[13.28,0.1000],[13.50,0.1000],[13.72,0.1000],[13.94,0.1000],[14.14,0.0984],[14.35,0.1000],[14.48,0.0227],
  [14.53,0.0394],[14.80,0.1000],[15.00,0.1000],[15.20,0.1000],[15.40,0.1000],[15.62,0.1000],[15.92,0.0706],[16.10,0.1000],
  [16.30,0.1000],[16.37,0.0497],[16.40,0.0496],[16.56,0.0636],[16.63,0.0516],[16.78,0.0704],[16.88,0.0246],[16.93,0.0397],
  [17.10,0.0310],[17.20,0.0350],[17.38,0.1000],[17.44,0.0090],[17.46,0.0030],[17.48,0.0003],[17.55,0.0330],[17.60,0.0310],
  [17.67,0.0510],[17.79,0.0666],[17.86,0.0484],[17.88,0.0486],[18.06,0.0181],[18.13,0.0464],[18.15,0.0464],[18.27,0.0631],
  [18.40,0.0672],[18.58,0.0404],[18.66,0.0574],[18.77,0.0365],[18.95,0.1000],[18.96,0.0080],[18.97,0.0045],[18.98,0.0147],
  [18.99,0.0010],[19.00,0.0035],[19.07,0.0405],[19.27,0.0669],[19.79,0.1000],[20.00,0.1000],[20.02,0.0362],[20.04,0.0085],
  [20.23,0.1000],[20.41,0.0713],[20.50,0.0422],[20.68,0.1000],[20.72,0.0174],[20.73,0.0145],[20.74,0.0046],[20.75,0.0006],
  [20.86,0.0805],[21.05,0.0931],[21.21,0.0036],[21.22,0.0016],[21.27,0.0209],[21.41,0.0872],[21.69,0.1000],[21.72,0.0097],
  [21.80,0.0390],[21.95,0.0695],[22.05,0.0010],[22.06,0.0025],[22.10,0.0283],[22.27,0.1000],[22.42,0.0258],[22.44,0.0214],
  [22.46,0.0258],[22.55,0.0421],[22.76,0.0850],[22.98,0.0145],[22.99,0.0122],[23.00,0.0100],[23.01,0.0070],[23.02,0.0050],
  [23.03,0.0020],[23.04,0.0002],[23.12,0.0355],[23.23,0.0689],[23.41,0.0860],[23.57,0.0883],[23.69,0.1000],[23.85,0.0340],
  [23.87,0.0318],[23.98,0.0860],[24.19,0.0838],[24.37,0.0688],[24.45,0.0290],[24.52,0.0283],[24.60,0.0293],[24.69,0.0771],
  [24.94,0.0838],[25.12,0.0868],[25.28,0.1000],[25.37,0.0370],[25.60,0.0518],[25.69,0.0569],[25.85,0.1000],[25.90,0.0415],
  [25.94,0.0593]
];

// (b) implicit Multi-Step, extra start-up steps
const multiStepBand = [
  [0.12,0.0040],[0.16,0.0012],[0.20,0.0075],[0.24,0.0030],[0.28,0.0055],[0.32,0.0008],[0.36,0.0065],[0.44,0.0025],
  [0.48,0.0100],[0.52,0.0045],[0.56,0.0015],[0.60,0.0080],[0.64,0.0035],[0.68,0.0060],[0.72,0.0012],[0.78,0.0095],
  [0.82,0.0028],[0.88,0.0070],[0.92,0.0008],[0.96,0.0055],[1.00,0.0090],[1.04,0.0020],[1.08,0.0065],[1.12,0.0105],
  [1.16,0.0040],[1.20,0.0015],[1.24,0.0085],[1.28,0.0030],[1.32,0.0060],[1.36,0.0110],[1.40,0.0040],[1.44,0.0012],
  [1.48,0.0075],[1.52,0.0120],[1.56,0.0050],[1.60,0.0090],[1.64,0.0020],[1.68,0.0060],[1.72,0.0100],[1.76,0.0035],
  [1.80,0.0070],[1.84,0.0015],[1.88,0.0090],[1.92,0.0050],[1.94,0.0120],[1.98,0.0030],[2.02,0.0080],[2.06,0.0045],
  [2.10,0.0110],[2.14,0.0025],[2.18,0.0070],[2.22,0.0100],[2.27,0.0035],[2.30,0.0080],[2.34,0.0015],[2.38,0.0060],
  [2.43,0.0095],[2.47,0.0040],[2.52,0.0075],[2.57,0.0020],[2.62,0.0090],[2.66,0.0050],[2.71,0.0110],[2.75,0.0030],
  [2.80,0.0070],[2.84,0.0100],[2.88,0.0025],[2.92,0.0060],[2.96,0.0120],[3.00,0.0045],[3.04,0.0085],[3.08,0.0020],
  [3.14,0.0070],[3.18,0.0110],[3.22,0.0040],[3.27,0.0090]
];

const seriesNames = ["Single-Step", "implicit Multi-Step"];
const timeTicks = [0, 5, 10, 15, 20, 25];
const cpuTicks = [500, 1000, 1500];
const stepTicks = [0.00, 0.02, 0.04, 0.06, 0.08, 0.10];
const timeRange = [0, 26];
const cpuRange = [99, 1872];
const stepRange = [-0.005, 0.105];

// ---------- styles ----------
const ORANGE = "#f26a10";
const NAVY = "#171768";
const FONT = 23;

const svg = d3.select("#fig");
const byTime = arrs => d3.sort([].concat(...arrs), d => d[0]);

function drawPanel(cfg) {
  const { box, yDomain, yTicks, yFormat, yLabel, yLabelX, single, multi, legendBox, caption, captionX, id } = cfg;

  const x = d3.scaleLinear().domain(timeRange).range([box.left, box.right]);
  const y = d3.scaleLinear().domain(yDomain).range([box.bottom, box.top]);

  svg.append("clipPath").attr("id", "clip-" + id)
    .append("rect")
    .attr("x", box.left).attr("y", box.top)
    .attr("width", box.right - box.left).attr("height", box.bottom - box.top);

  const plot = svg.append("g").attr("clip-path", `url(#clip-${id})`);
  const line = d3.line().x(d => x(d[0])).y(d => y(d[1]));

  // Single-Step: thin translucent line with hollow circle markers
  plot.append("path").datum(single)
    .attr("d", line).attr("fill", "none")
    .attr("stroke", ORANGE).attr("stroke-opacity", 0.42).attr("stroke-width", 0.85);
  plot.append("g").selectAll("circle").data(single).join("circle")
    .attr("cx", d => x(d[0])).attr("cy", d => y(d[1])).attr("r", 2.3)
    .attr("fill", "none").attr("stroke", ORANGE).attr("stroke-opacity", 0.85).attr("stroke-width", 0.95);

  // implicit Multi-Step: faint line with bold ring markers
  plot.append("path").datum(multi)
    .attr("d", line).attr("fill", "none")
    .attr("stroke", NAVY).attr("stroke-opacity", 0.25).attr("stroke-width", 0.8);
  plot.append("g").selectAll("circle").data(multi).join("circle")
    .attr("cx", d => x(d[0])).attr("cy", d => y(d[1])).attr("r", 2.4)
    .attr("fill", "#d4d4ee").attr("stroke", NAVY).attr("stroke-width", 2.2);

  // axes
  const xAxis = d3.axisBottom(x).tickValues(timeTicks).tickFormat(d3.format("d"))
    .tickSize(8).tickPadding(12);
  const gx = svg.append("g").attr("transform", `translate(0,${box.bottom})`).call(xAxis);
  const yAxis = d3.axisLeft(y).tickValues(yTicks).tickFormat(yFormat)
    .tickSize(8).tickPadding(11);
  const gy = svg.append("g").attr("transform", `translate(${box.left},0)`).call(yAxis);
  [gx, gy].forEach(g => {
    g.select(".domain").remove();
    g.selectAll(".tick line").attr("stroke", "#222").attr("stroke-width", 1.1);
    g.selectAll(".tick text").attr("font-size", FONT)
      .attr("font-family", '"Liberation Serif", serif').attr("fill", "#111");
  });

  // frame
  svg.append("rect")
    .attr("x", box.left).attr("y", box.top)
    .attr("width", box.right - box.left).attr("height", box.bottom - box.top)
    .attr("fill", "none").attr("stroke", "#333").attr("stroke-width", 1.1);

  // axis titles
  svg.append("text")
    .attr("x", (box.left + box.right) / 2).attr("y", 454)
    .attr("text-anchor", "middle").attr("font-size", 24)
    .text("Time (s)");
  svg.append("text")
    .attr("transform", `translate(${yLabelX},${(box.top + box.bottom) / 2}) rotate(-90)`)
    .attr("text-anchor", "middle").attr("dy", "0.35em").attr("font-size", 24)
    .text(yLabel);

  // sub-figure caption
  const cap = svg.append("text")
    .attr("x", captionX).attr("y", 525)
    .attr("text-anchor", "middle").attr("font-size", 24);
  cap.append("tspan").text("(");
  cap.append("tspan").attr("font-weight", "bold").text(caption);
  cap.append("tspan").text(")");

  // legend
  const lg = svg.append("g");
  lg.append("rect")
    .attr("x", legendBox.x).attr("y", legendBox.y)
    .attr("width", legendBox.w).attr("height", legendBox.h)
    .attr("rx", 4).attr("ry", 4)
    .attr("fill", "#fff").attr("fill-opacity", 0.8)
    .attr("stroke", "#cccccc").attr("stroke-width", 1.2);
  const rows = [
    { name: seriesNames[0], color: ORANGE, multi: false },
    { name: seriesNames[1], color: NAVY, multi: true }
  ];
  rows.forEach((r, i) => {
    const cy = legendBox.y + 16 + i * 33;
    const x0 = legendBox.x + 8, x1 = legendBox.x + 50;
    lg.append("line").attr("x1", x0).attr("x2", x1).attr("y1", cy).attr("y2", cy)
      .attr("stroke", r.color).attr("stroke-opacity", r.multi ? 0.3 : 0.42).attr("stroke-width", 1);
    const m = lg.append("circle").attr("cx", (x0 + x1) / 2).attr("cy", cy);
    if (r.multi) {
      m.attr("r", 2.4).attr("fill", "#d4d4ee").attr("stroke", NAVY).attr("stroke-width", 2.2);
    } else {
      m.attr("r", 2.3).attr("fill", "none").attr("stroke", ORANGE).attr("stroke-opacity", 0.85).attr("stroke-width", 0.95);
    }
    lg.append("text").attr("x", legendBox.x + 69).attr("y", cy).attr("dy", "0.33em")
      .attr("font-size", FONT).text(r.name);
  });
}

drawPanel({
  id: "a",
  box: { left: 113.3, right: 599, top: 14, bottom: 384 },
  yDomain: cpuRange, yTicks: cpuTicks, yFormat: d3.format("d"),
  yLabel: "CPU time per time step (s)", yLabelX: 27,
  single: byTime([singleCpuEarly, singleCpuBand, singleCpuCore, singleCpuLate, singleCpuCloud]),
  multi: byTime([multiCpu, multiCpuBand]),
  legendBox: { x: 318.5, y: 61.5, w: 256.5, h: 70 },
  caption: "a", captionX: 305
});

drawPanel({
  id: "b",
  box: { left: 758.3, right: 1242.7, top: 14, bottom: 384 },
  yDomain: stepRange, yTicks: stepTicks, yFormat: d3.format(".2f"),
  yLabel: "Global time step size (s)", yLabelX: 676,
  single: byTime([singleStepEarly, singleStepBand, singleStepCore, singleStepLate, singleStepCloud]),
  multi: byTime([multiStep, multiStepBand]),
  legendBox: { x: 963.5, y: 61.5, w: 256, h: 70 },
  caption: "b", captionX: 953
});
</script>
</body>
</html>
